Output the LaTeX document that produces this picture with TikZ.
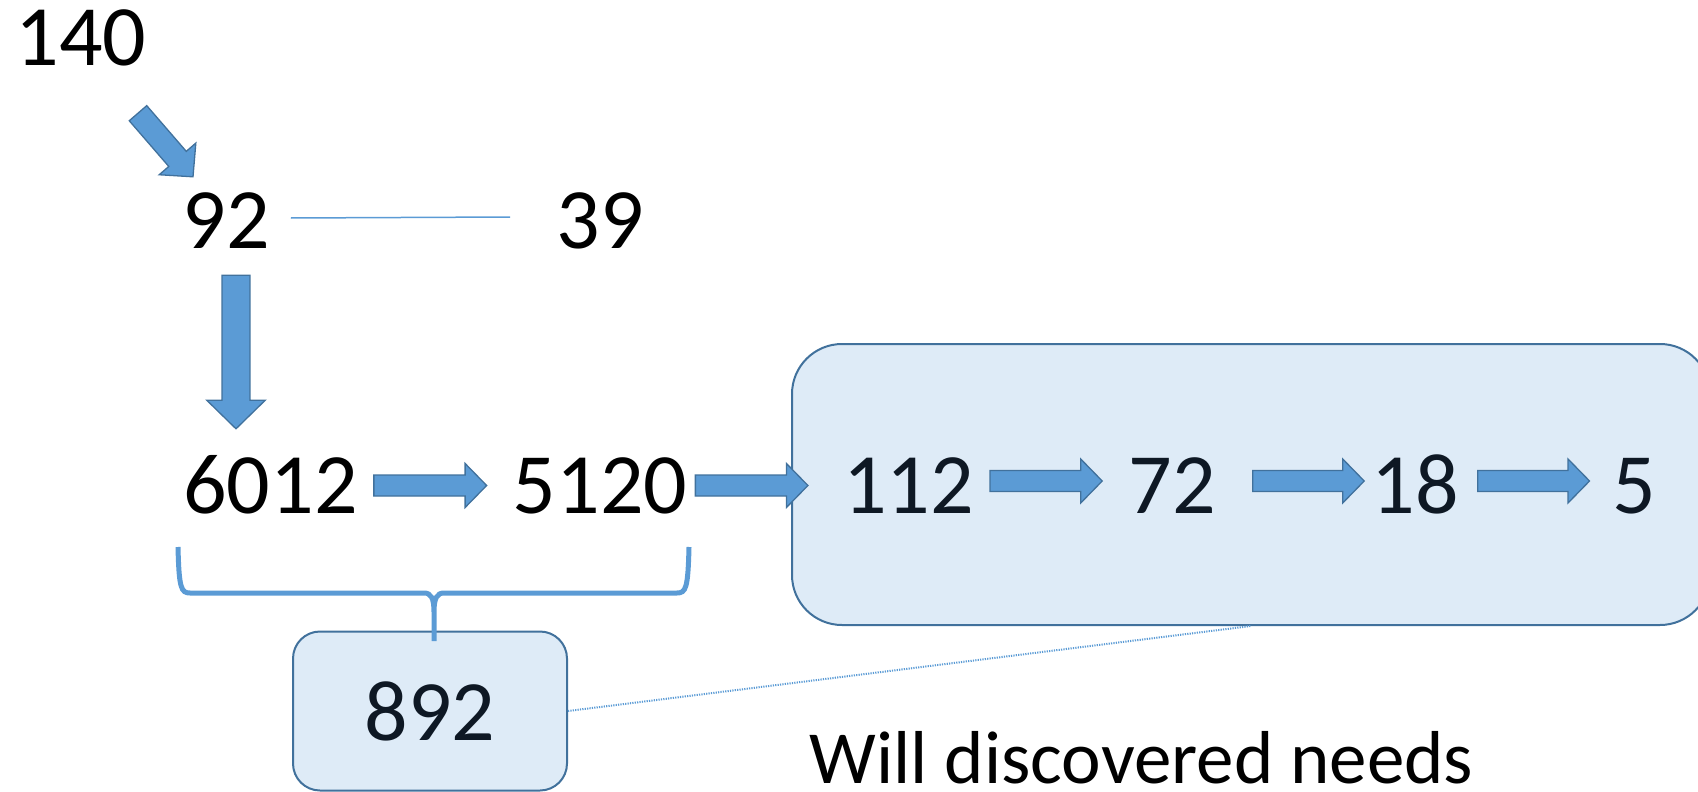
\documentclass[tikz,border=0pt]{standalone}
\usepackage{fontspec}
\setmainfont{Carlito}
\usetikzlibrary{calc,positioning}
\definecolor{cblue}{RGB}{91,155,213}
\definecolor{cedge}{RGB}{65,113,156}
\definecolor{cpale}{RGB}{222,235,247}
\definecolor{cink}{RGB}{14,24,36}

% fat office-style arrow between two points, [#1] scales it
\newcommand\blockarrow[3][1]{%
  \coordinate (ba1) at #2; \coordinate (ba2) at #3;
  \pgfmathsetlengthmacro\bahs{#1*10.5pt}%
  \pgfmathsetlengthmacro\bahh{#1*22pt}%
  \pgfmathsetlengthmacro\bahl{#1*21.5pt}%
  \coordinate (bab) at ($(ba2)!\bahl!(ba1)$);
  \draw[barrow] ($(ba1)!\bahs!90:(ba2)$) -- ($(bab)!\bahs!90:(ba2)$) -- ($(bab)!\bahh!90:(ba2)$) -- (ba2)
    -- ($(bab)!\bahh!-90:(ba2)$) -- ($(bab)!\bahs!-90:(ba2)$) -- ($(ba1)!\bahs!-90:(ba2)$) -- cycle;}

\begin{document}
\begin{tikzpicture}[x=1pt,y=-1pt,
    num/.style={inner sep=0pt, anchor=base, text height=56pt, text depth=0pt,
      font=\fontsize{86}{90}\selectfont},
    barrow/.style={fill=cblue, draw=cedge, line width=1.3pt, line join=miter},
    bigbox/.style={draw=cedge, fill=cpale, line width=2pt, rounded corners=50pt,
      minimum width=918pt, minimum height=281pt, inner sep=0pt},
    smallbox/.style={draw=cedge, fill=cpale, line width=2pt, rounded corners=27pt,
      minimum width=274pt, minimum height=159pt, inner sep=0pt, text=cink,
      font=\fontsize{86}{90}\selectfont},
    link/.style={cblue, line width=1.5pt}]
  \clip (0,0) rectangle (1698,792);

  \node[num] (n140) at (81,66) {140};
  \node[num] (n92) at (226,248) {92};
  \node[num] (n39) at (600,248) {39};
  \node[num] (n6012) at (270.5,513) {6012};
  \node[num] (n5120) at (600,513) {5120};

  % the group on the right
  \node[bigbox] (grp) at (1251,484.5) {};
  \node[num, text=cink] (n112) at (908.5,513) {112};
  \node[num, text=cink] (n72) at (1172,513) {72};
  \node[num, text=cink] (n18) at (1415,513) {18};
  \node[num, text=cink] (n5) at (1634.5,513) {5};

  \node[smallbox] (n892) at (430,711) {892};
  \node[inner sep=0pt, anchor=base, font=\fontsize{75}{78}\selectfont] (note) at (1141.5,783) {Will discovered needs};

  \blockarrow[1.1]{([shift={(57,47)}]n140.south)}{([shift={(-33,-15)}]n92.north)}
  \blockarrow[1.33]{([shift={(10,27)}]n92.south)}{([shift={(-34.5,-28)}]n6012.north)}
  \blockarrow{([shift={(16,0.5)}]n6012.east)}{([shift={(-26,0.5)}]n5120.west)}
  \blockarrow{([shift={(8,0.5)}]n5120.east)}{([shift={(-35,0.5)}]n112.west)}
  \blockarrow{([shift={(16,-4)}]n112.east)}{([shift={(-26,-4)}]n72.west)}
  \blockarrow{([shift={(37,-4)}]n72.east)}{([shift={(-7,-4)}]n18.west)}
  \blockarrow{([shift={(19,-4)}]n18.east)}{([shift={(-23,-4)}]n5.west)}

  \draw[link] ([shift={(21,-2)}]n92.east) -- ([shift={(-46,-3)}]n39.west);
  \draw[link, line width=2pt, dash pattern=on 1.2pt off 1.2pt] (n892.east) -- (grp.south);

  % brace under 6012 and 5120
  \draw[cblue, line width=5pt]
    (178,547) .. controls (179,588) and (181,593) .. (190,593) -- (424,593)
    .. controls (431,593) and (434,598) .. (434,612) -- (434,641)
    (689,547) .. controls (688,588) and (686,593) .. (677,593) -- (444,593)
    .. controls (437,593) and (434,598) .. (434,612);
\end{tikzpicture}
\end{document}
